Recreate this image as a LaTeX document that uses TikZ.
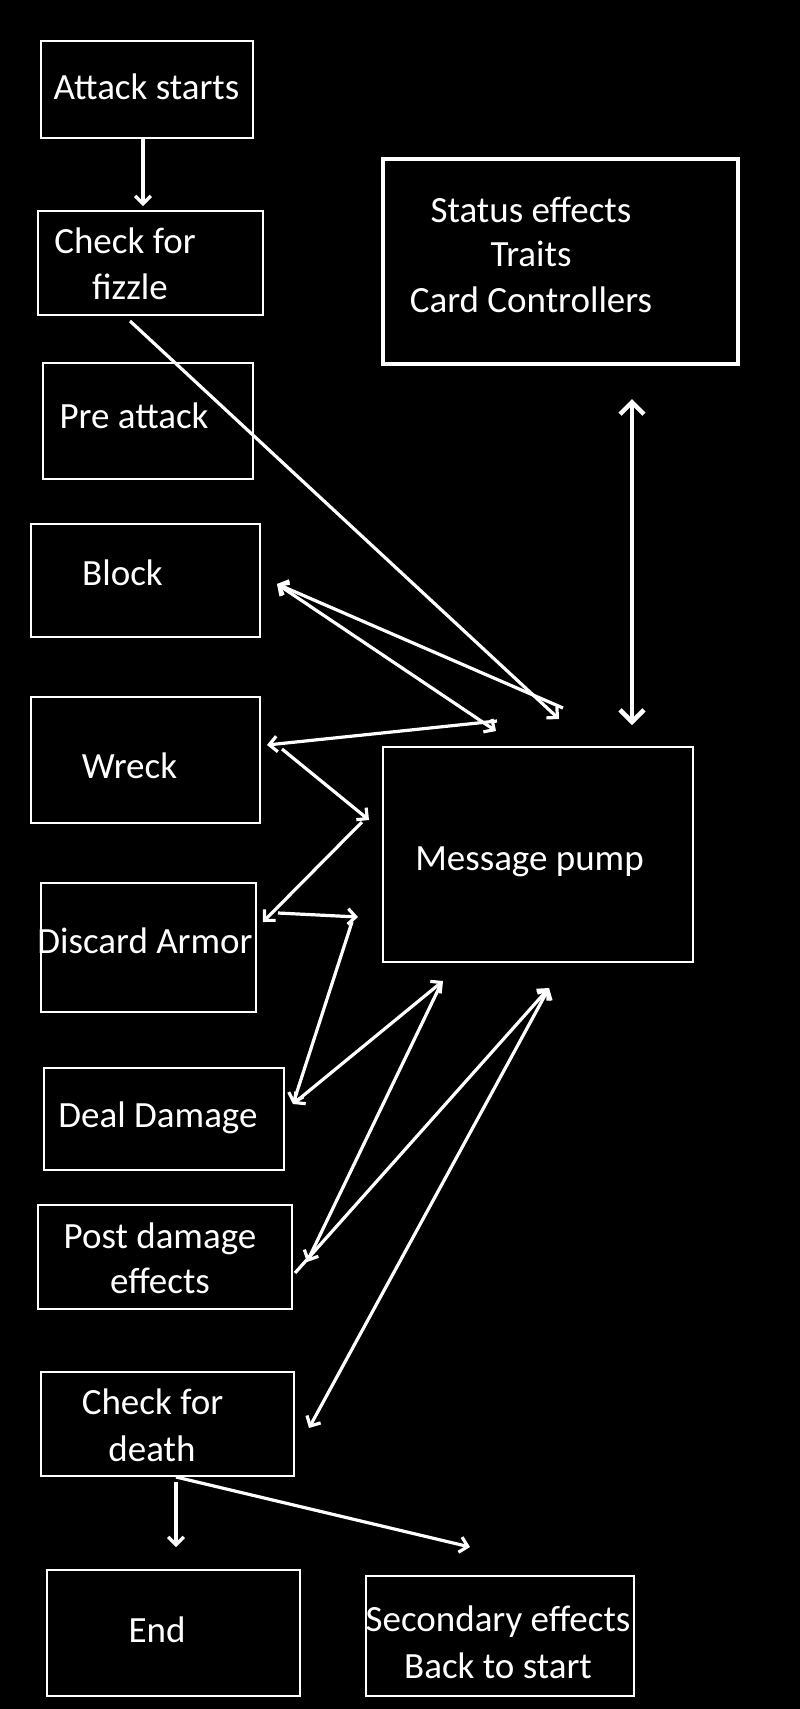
\documentclass[tikz,border=0pt]{standalone}
\usepackage{fontspec}
\setmainfont{Carlito}
\usetikzlibrary{arrows.meta}
\begin{document}
\begin{tikzpicture}[x=1pt,y=-1pt,
  box/.style={draw=white, line width=2pt, inner sep=0pt},
  thickbox/.style={draw=white, line width=3.5pt, inner sep=0pt},
  txt/.style={text=white, font=\fontsize{37}{44}\selectfont, anchor=base, inner sep=0pt},
  conn/.style={draw=white, line width=3.2pt, >={Straight Barb[angle=90:11pt]}},
  bigconn/.style={draw=white, line width=4.5pt, >={Straight Barb[angle=90:17pt]}}]
\fill[black] (0,0) rectangle (800,1709);
\useasboundingbox (0,0) rectangle (800,1709);

% boxes
\node[box, minimum width=212pt, minimum height=97pt] (attack) at (147,89.5) {};
\node[box, minimum width=225pt, minimum height=104pt] (fizzle) at (150.5,263) {};
\node[thickbox, minimum width=355pt, minimum height=205pt] (status) at (560.5,261.5) {};
\node[box, minimum width=210pt, minimum height=116pt] (pre) at (148,421) {};
\node[box, minimum width=229pt, minimum height=113pt] (block) at (145,580) {};
\node[box, minimum width=229pt, minimum height=126pt] (wreck) at (145,759.5) {};
\node[box, minimum width=215pt, minimum height=129pt] (discard) at (148.5,947.5) {};
\node[box, minimum width=240pt, minimum height=102pt] (deal) at (164,1119) {};
\node[box, minimum width=254pt, minimum height=104pt] (post) at (164.5,1257) {};
\node[box, minimum width=253pt, minimum height=104pt] (death) at (167.5,1424) {};
\node[box, minimum width=253pt, minimum height=126pt] (end) at (173.5,1633) {};
\node[box, minimum width=268pt, minimum height=120pt] (second) at (500,1636) {};
\node[box, minimum width=310pt, minimum height=215pt] (pump) at (538,854.5) {};

% texts
\node[txt] (tAttack) at (146.5,99) {Attack starts};
\node[txt] (tFiz1) at (125,253) {Check for};
\node[txt] (tFiz2) at (130,299) {fizzle};
\node[txt] (tSt1) at (531,222) {Status effects};
\node[txt] (tSt2) at (531,266) {Traits};
\node[txt] (tSt3) at (531,312) {Card Controllers};
\node[txt] (tPre) at (134,428) {Pre attack};
\node[txt] (tBlock) at (122.5,585) {Block};
\node[txt] (tWreck) at (129.5,778) {Wreck};
\node[txt] (tDiscard) at (145,953) {Discard Armor};
\node[txt] (tDeal) at (158,1127) {Deal Damage};
\node[txt] (tPost1) at (160,1248) {Post damage};
\node[txt] (tPost2) at (160,1293) {effects};
\node[txt] (tDeath1) at (152.5,1414) {Check for};
\node[txt] (tDeath2) at (152,1461) {death};
\node[txt] (tEnd) at (157,1642) {End};
\node[txt] (tSec1) at (498,1631) {Secondary effects};
\node[txt] (tSec2) at (498,1678) {Back to start};
\node[txt] (tPump) at (529.5,870) {Message pump};

% connector end points
\coordinate (aS) at (143,139);
\coordinate (aE) at (143,206);
\coordinate (fizS) at (130,321);
\coordinate (fizE) at (559,719);
\coordinate (blockTip) at (277,584);
\coordinate (pA) at (563,708);
\coordinate (pB) at (496,731);
\coordinate (wreckTip) at (267,745);
\coordinate (pW) at (497,721);
\coordinate (wS) at (282,749);
\coordinate (p1) at (369,820);
\coordinate (p1s) at (362,822);
\coordinate (discTip) at (263,922);
\coordinate (discS) at (278,913);
\coordinate (p2) at (358,917);
\coordinate (p2s) at (352,922);
\coordinate (dealTip) at (293,1104);
\coordinate (p3) at (443,981);
\coordinate (p3s) at (440,986);
\coordinate (postTip) at (307,1262);
\coordinate (postS) at (295,1273);
\coordinate (p4) at (549,988);
\coordinate (deathTip) at (309,1428);
\coordinate (stTop) at (632,399);
\coordinate (stBot) at (632,725);
\coordinate (dS1) at (176,1482);
\coordinate (endTip) at (176,1547);
\coordinate (dS2) at (176,1477);
\coordinate (secTip) at (470,1547);

% connectors
\draw[conn,->] (aS) -- (aE);
\draw[conn,->] (fizS) -- (fizE);
\draw[conn,<-] (blockTip) -- (pA);
\draw[conn,<->] (blockTip) -- (pB);
\draw[conn,<-] (wreckTip) -- (pW);
\draw[conn,->] (wS) -- (p1);
\draw[conn,->] (p1s) -- (discTip);
\draw[conn,->] (discS) -- (p2);
\draw[conn,->] (p2s) -- (dealTip);
\draw[conn,<->] (dealTip) -- (p3);
\draw[conn,->] (p3s) -- (postTip);
\draw[conn,->] (postS) -- (p4);
\draw[conn,<->] (deathTip) -- (p4);
\draw[bigconn,<->] (stTop) -- (stBot);
\draw[conn,->] (dS1) -- (endTip);
\draw[conn,->] (dS2) -- (secTip);
\end{tikzpicture}
\end{document}
